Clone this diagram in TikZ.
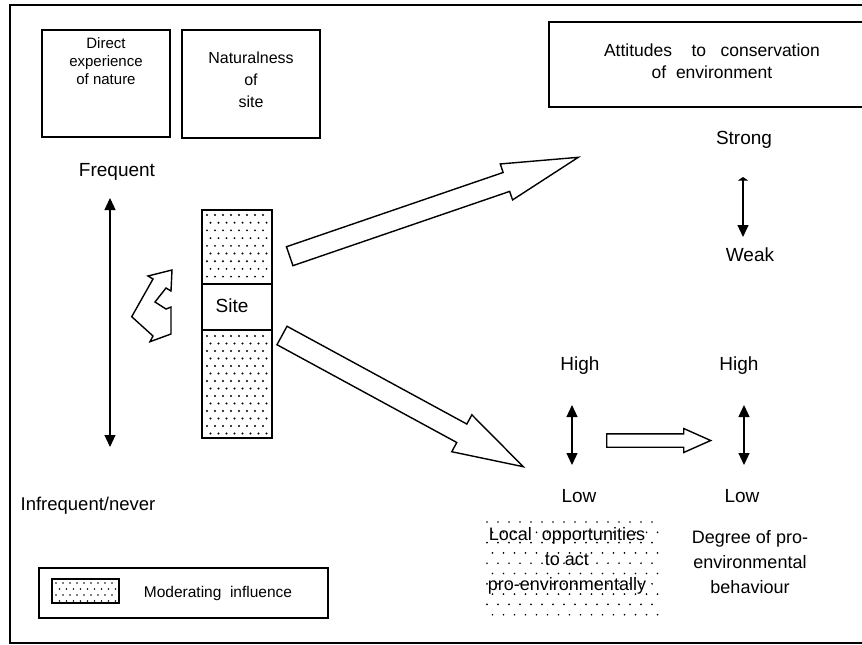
\documentclass[tikz,border=0pt]{standalone}
\usepackage{fontspec}
\setmainfont{Liberation Sans}
\usetikzlibrary{arrows.meta,calc}
\newcommand\blkarrow[6]{% name, A, B, shaft half width, head half width, head length
  \coordinate (#1h) at ($(#3)!#6!(#2)$);
  \draw[blockarrow] ($(#2)!#4!90:(#3)$) -- ($(#1h)!#4!90:(#3)$) -- ($(#1h)!#5!90:(#3)$) -- (#3)
    -- ($(#1h)!#5!-90:(#3)$) -- ($(#1h)!#4!-90:(#3)$) -- ($(#2)!#4!-90:(#3)$) -- cycle;}
\begin{document}
\begin{tikzpicture}[x=1pt,y=-1pt,
  box/.style={draw, line width=1.4pt, inner sep=0pt},
  lbl/.style={font=\fontsize{19}{22}\selectfont, inner sep=0pt},
  boxtxt/.style={font=\fontsize{15}{18}\selectfont, align=center, inner sep=0pt, anchor=north},
  blockarrow/.style={draw, line width=1.4pt, fill=white, line join=miter},
  dbl/.style={line width=1.2pt, {Triangle[length=12pt,width=11pt]}-{Triangle[length=12pt,width=11pt]}},
  dotc/.style={fill=black}
]
\useasboundingbox (0,0) rectangle (862,645);
\clip (0,0) rectangle (862,645);
\fill[white] (0,0) rectangle (862,645);
% outer frame
\draw[line width=1.4pt] (880,5) -- (10,5) -- (10,643) -- (880,643);

% top boxes
\node[box, minimum width=128pt, minimum height=107pt] (direct) at (106,83.5) {};
\node[boxtxt] (directtxt) at (106,37) {Direct\\experience\\of nature};
\node[box, minimum width=138pt, minimum height=108pt] (natural) at (251,84) {};
\node[boxtxt, font=\fontsize{16}{22}\selectfont] (naturaltxt) at (251,52) {Naturalness\\of\\site};
\node[box, minimum width=331pt, minimum height=85pt] (attit) at (714.5,64.5) {};
\node[boxtxt, font=\fontsize{17.5}{22}\selectfont] (attittxt) at (712,44) {Attitudes~~~~to~~~conservation\\of~~environment};

% frequency axis
\node[lbl] (freq) at (117,172) {Frequent};
\node[lbl, font=\fontsize{18.5}{22}\selectfont] (infreq) at (88,506) {Infrequent/never};
\coordinate (ftop) at (110,198);
\coordinate (fbot) at (110,447);
\draw[dbl] (ftop) -- (fbot);

% site column
\foreach \i in {0,...,8} \foreach \j in {0,...,7} {
  \fill[dotc] ({207+8*\j+mod(\i,2)*3.5},{215+7.7*\i}) circle (1.05pt);}
\foreach \i in {0,...,13} \foreach \j in {0,...,7} {
  \fill[dotc] ({207+8*\j+mod(\i,2)*3.5},{336+7.5*\i}) circle (1.05pt);}
\node[box, minimum width=70pt, minimum height=74pt] (sitetop) at (237,247) {};
\node[box, minimum width=70pt, minimum height=46pt] (site) at (237,307) {};
\node[lbl] (sitelbl) at (232,306) {Site};
\node[box, minimum width=70pt, minimum height=108pt] (sitebot) at (237,384) {};

% zigzag double arrow
\draw[blockarrow] (131.7,316.7) -- (153,279) -- (148,276) -- (172,270) -- (171,291) -- (166,288)
  -- (155,302) -- (166,309) -- (171,307) -- (171,334) -- (150,341.7) -- (153,336) -- cycle;

% big block arrows
\coordinate (upA) at (289.7,256.2);
\coordinate (upB) at (578.3,157.3);
\blkarrow{up}{upA}{upB}{10pt}{19pt}{76pt}
\coordinate (loA) at (282,335.5);
\coordinate (loB) at (523.3,466.7);
\blkarrow{lo}{loA}{loB}{10.5pt}{21pt}{70pt}

% attitudes scale
\node[lbl] (strong) at (744,140) {Strong};
\node[lbl] (weak) at (750,255) {Weak};
\coordinate (stop) at (743,177);
\coordinate (sbot) at (743,237);
\draw[line width=1.2pt, {Triangle[length=3.5pt,width=10pt]}-{Triangle[length=12pt,width=11pt]}] (stop) -- (sbot);

% opportunities scale
\node[lbl] (high1) at (580,366) {High};
\node[lbl] (low1) at (579,496) {Low};
\coordinate (h1top) at (572,405);
\coordinate (h1bot) at (572,465);
\draw[dbl] (h1top) -- (h1bot);

% behaviour scale
\node[lbl] (high2) at (739,366) {High};
\node[lbl] (low2) at (742,496) {Low};
\coordinate (h2top) at (744,405);
\coordinate (h2bot) at (744,465);
\draw[dbl] (h2top) -- (h2bot);

% horizontal block arrow
\coordinate (hA) at (606.7,440.5);
\coordinate (hB) at (710.7,440.5);
\blkarrow{hz}{hA}{hB}{6.7pt}{12pt}{27pt}

% local opportunities dotted area
\foreach \i in {0,...,9} \foreach \j in {0,...,15} {
  \fill[dotc] ({487+11*\j+mod(\i,2)*5.5},{522+10.3*\i}) circle (0.95pt);}
\node[font=\fontsize{18}{25}\selectfont, align=center, inner sep=0pt] (local) at (567,561)
  {Local~~opportunities\\to act\\pro-environmentally};

% degree of behaviour
\node[font=\fontsize{18}{25}\selectfont, align=center, inner sep=0pt] (degree) at (750,562)
  {Degree of pro-\\environmental\\behaviour};

% legend
\node[box, minimum width=289pt, minimum height=50pt] (legend) at (183.5,593) {};
\foreach \i in {0,...,3} \foreach \j in {0,...,8} {
  \fill[dotc] ({56+7*\j+mod(\i,2)*3.5},{583+6*\i}) circle (0.9pt);}
\node[box, line width=1.2pt, minimum width=67pt, minimum height=24pt] (legsw) at (85.5,591) {};
\node[font=\fontsize{15.5}{18}\selectfont, inner sep=0pt] (legtxt) at (218,593) {Moderating~~influence};
\end{tikzpicture}
\end{document}
